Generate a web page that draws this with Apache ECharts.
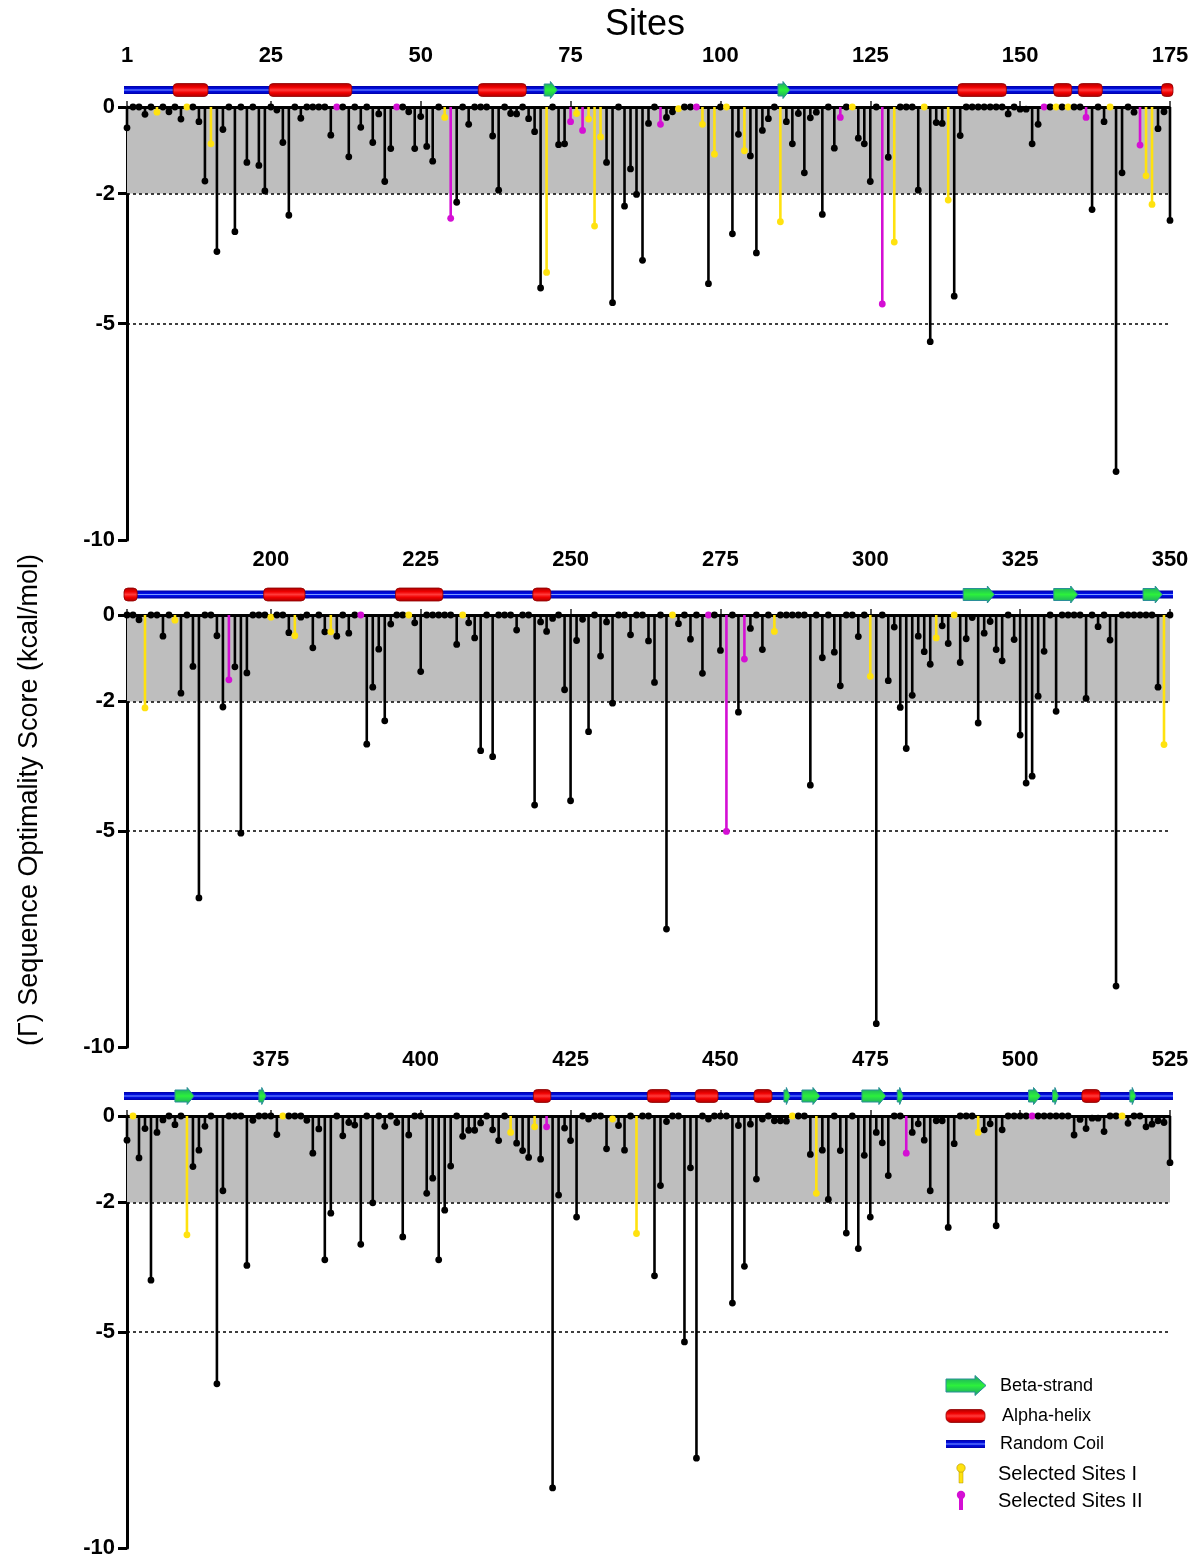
<!DOCTYPE html>
<html><head><meta charset="utf-8">
<script src="https://cdn.jsdelivr.net/npm/echarts@6/dist/echarts.min.js"></script>
<style>html,body{margin:0;padding:0;background:#fff}#c{width:1200px;height:1564px}</style>
</head><body><div id="c"></div>
<script>
// ---------------- DATA ----------------
// Sequence optimality score per site (kcal/mol)
const scoresSites1to175 = [
 -0.48,0,0,-0.17,0,-0.12,0,-0.11,0,-0.28,0,0,-0.34,-1.71,-0.85,-3.34,-0.52,0,-2.88,0,-1.28,0,-1.35,-1.94,0,
 -0.07,-0.82,-2.5,0,-0.26,0,0,0,0,-0.65,0,0,-1.15,0,-0.47,0,-0.82,-0.16,-1.72,-0.96,0,0,-0.11,-0.96,-0.22,
 -0.91,-1.25,0,-0.24,-2.57,-2.2,0,-0.4,0,0,0,-0.67,-1.92,0,-0.15,-0.16,0,-0.27,-0.57,-4.18,-3.82,0,-0.87,-0.85,-0.34,
 -0.15,-0.54,-0.28,-2.75,-0.69,-1.28,-4.52,0,-2.29,-1.43,-2.02,-3.54,-0.38,0,-0.4,-0.24,-0.11,-0.04,0,0,0,-0.4,-4.08,-1.09,0,
 0,-2.93,-0.63,-1.01,-1.13,-3.37,-0.54,-0.27,0,-2.65,-0.34,-0.85,-0.15,-1.52,-0.25,-0.12,-2.48,0,-0.95,-0.24,0,0,-0.72,-0.85,-1.72,
 0,-4.55,-1.16,-3.12,0,0,0,-1.92,0,-5.42,-0.36,-0.38,-2.15,-4.37,-0.66,0,0,0,0,0,0,0,-0.16,0,-0.05,
 -0.05,-0.85,-0.4,0,0,0,0,0,0,0,-0.24,-2.37,0,-0.34,0,-8.42,-1.52,0,-0.12,-0.88,-1.59,-2.25,-0.5,-0.11,-2.62
];
const scoresSites176to350 = [
 0,0,-0.11,-2.15,0,0,-0.49,0,-0.12,-1.81,0,-1.19,-6.55,0,0,-0.48,-2.13,-1.5,-1.2,-5.05,-1.34,0,0,0,-0.05,
 0,0,-0.41,-0.48,-0.05,0,-0.76,0,-0.39,-0.39,-0.49,0,-0.42,0,0,-2.99,-1.67,-0.79,-2.45,-0.21,0,0,0,-0.18,-1.31,
 0,0,0,0,0,-0.68,0,-0.18,-0.53,-3.14,0,-3.28,0,0,0,-0.35,0,0,-4.4,-0.16,-0.38,-0.08,0,-1.73,-4.3,
 -0.59,-0.1,-2.7,0,-0.95,-0.16,-2.04,0,0,-0.46,0,0,-0.6,-1.56,0,-7.27,0,-0.2,0,-0.56,0,-1.35,0,0,-0.82,
 -5.01,0,-2.25,-1.02,-0.31,0,-0.8,0,-0.38,0,0,0,0,0,-3.94,0,-0.99,0,-0.86,-1.64,0,0,-0.5,0,-1.42,
 -9.46,0,-1.52,-0.28,-2.14,-3.09,-1.86,-0.49,-0.85,-1.14,-0.53,-0.25,-0.66,0,-1.1,-0.55,-0.06,-2.5,-0.42,-0.15,-0.8,-1.06,0,-0.57,-2.78,
 -3.89,-3.73,-1.88,-0.84,0,-2.23,0,0,0,0,-1.93,0,-0.27,0,-0.58,-8.59,0,0,0,0,0,0,-1.67,-3.0,0
];
const scoresSites351to525 = [
 -0.56,0,-0.97,-0.29,-3.8,-0.38,-0.09,0,-0.2,0,-2.75,-1.17,-0.79,-0.24,0,-6.2,-1.73,0,0,0,-3.46,-0.1,0,0,0,
 -0.43,0,0,0,0,-0.1,-0.86,-0.3,-3.33,-2.25,0,-0.46,-0.15,-0.21,-2.97,0,-2.01,0,-0.24,0,-0.15,-2.8,-0.44,0,0,
 -1.79,-1.44,-3.33,-2.18,-1.16,0,-0.47,-0.33,-0.33,-0.16,0,-0.32,-0.57,0,-0.38,-0.63,-0.8,-0.96,-0.25,-1.0,-0.25,-8.61,-1.83,-0.28,-0.57,
 -2.34,0,-0.07,0,0,-0.76,-0.07,-0.22,-0.79,0,-2.72,0,0,-3.7,-1.61,-0.13,0,0,-5.23,-1.2,-7.92,0,-0.07,0,0,
 0,-4.33,-0.22,-3.48,-0.19,-1.46,-0.07,0,-0.11,-0.11,-0.12,0,0,0,-0.89,-1.79,-0.79,-1.93,0,-0.8,-2.71,0,-3.07,-0.91,-2.34,
 -0.38,-0.62,-1.38,0,0,-0.86,-0.38,-0.18,-0.56,-1.73,-0.11,-0.11,-2.58,-0.64,0,0,0,-0.38,-0.32,-0.18,-2.54,-0.32,0,0,0,
 0,0,0,0,0,0,0,0,-0.44,-0.08,-0.29,-0.05,-0.05,-0.36,0,0,0,-0.17,0,0,-0.25,-0.19,-0.11,-0.15,-1.08
];
const selectedSitesI = [6,11,15,54,71,76,78,79,80,93,97,99,101,104,110,122,129,134,138,156,158,165,171,172,
 179,184,200,204,210,223,232,267,284,300,311,314,349,
 352,361,377,415,419,432,436,462,466,493,517];
const selectedSitesII = [36,46,55,75,77,90,96,120,127,154,161,170,
 193,215,273,276,279,
 421,481,502];
// secondary structure extents (in site units)
const alphaHelices = [[8.7,14.5],[24.7,38.5],[59.6,67.6],[139.6,147.7],[155.6,158.6],[159.7,163.7],[173.6,177.7],
 [198.8,205.7],[220.8,228.7],[243.7,246.7],
 [418.8,421.7],[437.8,441.6],[445.8,449.6],[455.6,458.6],[510.3,513.3]];
const betaStrands = [[70.6,72.8],[109.6,111.6],
 [315.5,320.7],[330.6,334.6],[345.5,348.7],
 [359,362.2],[373,374.2],[460.6,461.6],[463.6,466.6],[473.6,477.6],[479.5,480.5],[501.4,503.4],[505.4,506.4],[518.3,519.3]];
const panelSiteRanges = [[1,175],[176,350],[351,525]];
const xTickValues = [[1,25,50,75,100,125,150,175],[176,200,225,250,275,300,325,350],[351,375,400,425,450,475,500,525]];
const xLabelValues = [[1,25,50,75,100,125,150,175],[200,225,250,275,300,325,350],[375,400,425,450,475,500,525]];
const yTickValues = [0,-2,-5,-10];
const referenceLines = [-2,-5];
const shadedBand = [0,-2];

// ---------------- STYLE / LAYOUT ----------------
const COLORS = ['#000000','#FFE20F','#D40FD4'];
const gridTops = [107,615,1116];
const gridHeights = [433,432,432];
const axisOffsets = [29,33,34];
const trackOffsets = [17,20.5,20];
const FONT = 'Liberation Sans, Arial, sans-serif';

const allScores = [scoresSites1to175, scoresSites176to350, scoresSites351to525];

function classOf(site){
  if (selectedSitesII.indexOf(site) >= 0) return 2;
  if (selectedSitesI.indexOf(site) >= 0) return 1;
  return 0;
}

const grids = [], xAxes = [], yAxes = [], series = [];
for (let p = 0; p < 3; p++) {
  const [smin, smax] = panelSiteRanges[p];
  grids.push({left:127, right:30, top:gridTops[p], height:gridHeights[p]});
  xAxes.push({
    gridIndex:p, type:'value', min:smin, max:smax, position:'top', offset:axisOffsets[p],
    axisLine:{show:true, lineStyle:{color:'#222', width:1.5}},
    axisTick:{show:true, customValues:xTickValues[p], length:6, lineStyle:{color:'#222', width:1.5}},
    axisLabel:{customValues:xLabelValues[p], fontSize:22, fontWeight:'bold', color:'#000', fontFamily:FONT, margin:11},
    splitLine:{show:false}
  });
  yAxes.push({
    gridIndex:p, type:'value', min:-10, max:0,
    axisLine:{show:true, lineStyle:{color:'#000', width:3}},
    axisTick:{show:true, customValues:yTickValues, length:9, lineStyle:{color:'#000', width:3}},
    axisLabel:{customValues:yTickValues, fontSize:22, fontWeight:'bold', color:'#000', fontFamily:FONT, margin:12},
    splitLine:{show:false}
  });
  // shaded band + reference lines + zero baseline
  series.push({
    type:'line', xAxisIndex:p, yAxisIndex:p, data:[], silent:true, z:1,
    markArea:{silent:true, itemStyle:{color:'#bebebe'}, data:[[{yAxis:shadedBand[0]},{yAxis:shadedBand[1]}]]},
    markLine:{silent:true, symbol:['none','none'], label:{show:false},
      data: referenceLines.map(v => ({yAxis:v, lineStyle:{color:'#000', width:1.5, type:[3,3]}}))
        .concat([{yAxis:0, lineStyle:{color:'#000', width:3, type:'solid'}}])}
  });
  // secondary structure track
  const lo = smin - 0.5, hi = smax + 0.5;
  const track = [[lo, hi, 0]];
  alphaHelices.forEach(h => { const a = Math.max(h[0], lo), b = Math.min(h[1], hi); if (b > a) track.push([a, b, 1]); });
  betaStrands.forEach(h => { const a = Math.max(h[0], lo), b = Math.min(h[1], hi); if (b > a) track.push([a, b, 2]); });
  const off = trackOffsets[p];
  series.push({
    type:'custom', xAxisIndex:p, yAxisIndex:p, data:track, z:3, silent:true, clip:false,
    renderItem:function(params, api){
      const a = api.coord([api.value(0), 0]), b = api.coord([api.value(1), 0]);
      const y = a[1] - off, t = api.value(2);
      const x1 = a[0], x2 = b[0], w = x2 - x1;
      if (t === 0) {
        return {type:'rect', shape:{x:x1, y:y-4, width:w, height:8},
          style:{fill:new echarts.graphic.LinearGradient(0,0,0,1,[{offset:0,color:'#0000a8'},{offset:0.38,color:'#0010e8'},{offset:0.5,color:'#7f9bff'},{offset:0.62,color:'#0010e8'},{offset:1,color:'#0000a8'}])}};
      } else if (t === 1) {
        return {type:'rect', shape:{x:x1, y:y-6.5, width:w, height:13, r:4},
          style:{fill:new echarts.graphic.LinearGradient(0,0,0,1,[{offset:0,color:'#a80000'},{offset:0.3,color:'#f00000'},{offset:0.5,color:'#ff3a3a'},{offset:0.7,color:'#f00000'},{offset:1,color:'#a80000'}]), stroke:'#900000', lineWidth:0.8}};
      } else {
        const head = Math.min(7, w * 0.6);
        const xb = x2 - head;
        return {type:'polygon', shape:{points:[[x1,y-6],[xb,y-6],[xb,y-8.5],[x2,y],[xb,y+8.5],[xb,y+6],[x1,y+6]]},
          style:{fill:new echarts.graphic.LinearGradient(0,0,0,1,[{offset:0,color:'#1a9c6a'},{offset:0.5,color:'#2cf03c'},{offset:1,color:'#1a9c6a'}]), stroke:'#2a8f98', lineWidth:1}};
      }
    }
  });
  // lollipops
  const lol = allScores[p].map((v, i) => [smin + i, v, classOf(smin + i)]);
  series.push({
    type:'custom', xAxisIndex:p, yAxisIndex:p, data:lol, z:5, silent:true, clip:false,
    renderItem:function(params, api){
      const s = api.value(0), v = api.value(1), c = api.value(2);
      const base = api.coord([s, 0]), tip = api.coord([s, v]);
      const col = COLORS[c];
      return {type:'group', children:[
        {type:'line', shape:{x1:base[0], y1:base[1], x2:tip[0], y2:tip[1]}, style:{stroke:col, lineWidth:2.6}},
        {type:'circle', shape:{cx:tip[0], cy:tip[1], r:3.4}, style:{fill:col}}
      ]};
    }
  });
}

// legend (drawn as graphics)
const greenGrad = new echarts.graphic.LinearGradient(0,0,0,1,[{offset:0,color:'#1a9c6a'},{offset:0.5,color:'#2cf03c'},{offset:1,color:'#1a9c6a'}]);
const redGrad = new echarts.graphic.LinearGradient(0,0,0,1,[{offset:0,color:'#a80000'},{offset:0.3,color:'#f00000'},{offset:0.5,color:'#ff3a3a'},{offset:0.7,color:'#f00000'},{offset:1,color:'#a80000'}]);
const blueGrad = new echarts.graphic.LinearGradient(0,0,0,1,[{offset:0,color:'#0000a8'},{offset:0.38,color:'#0010e8'},{offset:0.5,color:'#7f9bff'},{offset:0.62,color:'#0010e8'},{offset:1,color:'#0000a8'}]);
const legendItems = ['Beta-strand','Alpha-helix','Random Coil','Selected Sites I','Selected Sites II'];
const graphics = [
  {type:'polygon', shape:{points:[[946,1379],[975,1379],[975,1375.5],[986,1385.5],[975,1395.5],[975,1392],[946,1392]]}, style:{fill:greenGrad, stroke:'#2a8f98', lineWidth:1}},
  {type:'rect', shape:{x:946, y:1409.5, width:39, height:13, r:5}, style:{fill:redGrad, stroke:'#900000', lineWidth:0.8}},
  {type:'rect', shape:{x:946, y:1440, width:39, height:8}, style:{fill:blueGrad}},
  {type:'rect', shape:{x:959, y:1468, width:4, height:15}, style:{fill:COLORS[1], stroke:'#b09000', lineWidth:0.5}},
  {type:'circle', shape:{cx:961, cy:1468, r:4.2}, style:{fill:COLORS[1], stroke:'#b09000', lineWidth:0.6}},
  {type:'rect', shape:{x:959, y:1495, width:4, height:15}, style:{fill:COLORS[2]}},
  {type:'circle', shape:{cx:961, cy:1495, r:4.2}, style:{fill:COLORS[2]}},
  {type:'text', x:1000, y:1386, style:{text:legendItems[0], font:'18px ' + FONT, fill:'#000', textVerticalAlign:'middle'}},
  {type:'text', x:1002, y:1416, style:{text:legendItems[1], font:'18px ' + FONT, fill:'#000', textVerticalAlign:'middle'}},
  {type:'text', x:1000, y:1444, style:{text:legendItems[2], font:'18px ' + FONT, fill:'#000', textVerticalAlign:'middle'}},
  {type:'text', x:998, y:1474, style:{text:legendItems[3], font:'20px ' + FONT, fill:'#000', textVerticalAlign:'middle'}},
  {type:'text', x:998, y:1501, style:{text:legendItems[4], font:'20px ' + FONT, fill:'#000', textVerticalAlign:'middle'}},
  {type:'text', x:30, y:800, rotation:Math.PI/2, style:{text:'(\u0393) Sequence Optimality Score (kcal/mol)', font:'27px ' + FONT, fill:'#000', textAlign:'center', textVerticalAlign:'middle'}}
];

const chart = echarts.init(document.getElementById('c'), null, {renderer:'canvas'});
chart.setOption({
  animation:false,
  backgroundColor:'#fff',
  title:{text:'Sites', left:640, top:2, textAlign:'center', textStyle:{fontSize:36, fontWeight:'normal', color:'#000', fontFamily:FONT}},
  grid:grids, xAxis:xAxes, yAxis:yAxes, series:series, graphic:graphics
});
</script></body></html>
